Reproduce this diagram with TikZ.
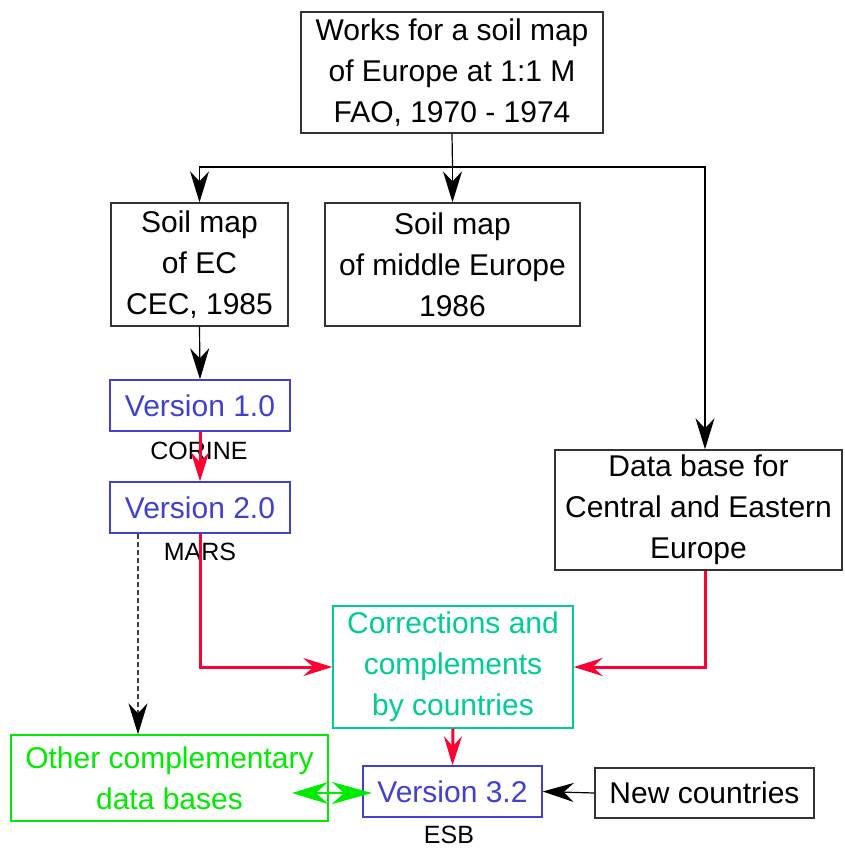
\documentclass[tikz,border=0pt]{standalone}
\usepackage{fontspec}
\setmainfont{Liberation Sans}
\usetikzlibrary{arrows.meta}
\definecolor{vblue}{RGB}{64,64,210}
\definecolor{vgreen}{RGB}{0,235,0}
\definecolor{vteal}{RGB}{0,204,150}
\definecolor{vred}{RGB}{255,0,51}
\begin{document}
\begin{tikzpicture}[x=1pt,y=-1pt,
  box/.style={draw=black!80,line width=1.4pt,inner sep=0pt,align=center,
    font=\fontsize{30}{41}\selectfont},
  vbox/.style={box,draw=vblue,text=vblue},
  lbl/.style={font=\fontsize{25}{30}\selectfont,inner sep=0pt},
  blk/.style={draw=black,line width=1.2pt,-{Stealth[length=31pt,width=19pt,inset=10pt]}},
  redarr/.style={draw=vred,line width=3pt,-{Stealth[length=29pt,width=18pt,inset=10pt]}},
  grn/.style={draw=vgreen,line width=2.6pt,{Stealth[length=36pt,width=22pt,inset=12pt]}-{Stealth[length=40pt,width=22pt,inset=12pt]}}
]
\useasboundingbox (0,0) rectangle (845,849);
\node[box,minimum width=302pt,minimum height=121pt] (top) at (452,72.5) {Works for a soil map\\of Europe at 1:1 M\\FAO, 1970 - 1974};
\node[box,minimum width=177pt,minimum height=123pt] (ec) at (199.5,264.5) {Soil map\\of EC\\CEC, 1985};
\node[box,minimum width=255pt,minimum height=123pt] (mid) at (452.5,264.5) {Soil map\\of middle Europe\\1986};
\node[vbox,minimum width=180pt,minimum height=51pt] (v1) at (200,405.5) {Version 1.0};
\node[lbl] (corine) at (199,451) {CORINE};
\node[vbox,minimum width=180pt,minimum height=51pt] (v2) at (200,507.5) {Version 2.0};
\node[lbl] (mars) at (200,552) {MARS};
\node[box,minimum width=287pt,minimum height=120pt] (db) at (698.5,510) {Data base for\\Central and Eastern\\Europe};
\node[box,draw=vteal,text=vteal,minimum width=240pt,minimum height=122pt] (corr) at (453,667) {Corrections and\\complements\\by countries};
\node[box,draw=vgreen,text=vgreen,minimum width=317pt,minimum height=86pt] (other) at (169.5,778) {Other complementary\\data bases};
\node[vbox,minimum width=179pt,minimum height=51pt] (v3) at (452.5,791.5) {Version 3.2};
\node[lbl] (esb) at (449,835) {ESB};
\node[box,minimum width=219pt,minimum height=50pt] (new) at (704.5,793) {New countries};
% black connectors
\coordinate (split) at (452.5,167);
\draw[draw=black,line width=1.2pt] (top.south) -- (split);
\draw[blk] (split) -| (ec.north);
\draw[blk] (split) -- (mid.north);
\draw[blk] (split) -| (db.north -| 705,0);
\draw[blk] (ec.south) -- (v1.north);
\draw[blk] (new.west) -- (v3.east);
\draw[draw=black!75,line width=1.2pt,dash pattern=on 5pt off 3pt,-{Stealth[length=31pt,width=19pt,inset=10pt,color=black]}] (v2.south -| 138,0) -- (other.north -| 138,0);
% red connectors
\draw[redarr] (v1.south) -- (v2.north);
\draw[redarr] (v2.south) |- (corr.west);
\draw[redarr] (db.south -| 705,0) |- (corr.east);
\draw[redarr] (corr.south) -- (v3.north);
% green double arrow
\coordinate (gl) at (292,793);
\coordinate (gr) at (372,793);
\draw[grn] (gl) -- (gr);
\end{tikzpicture}
\end{document}
